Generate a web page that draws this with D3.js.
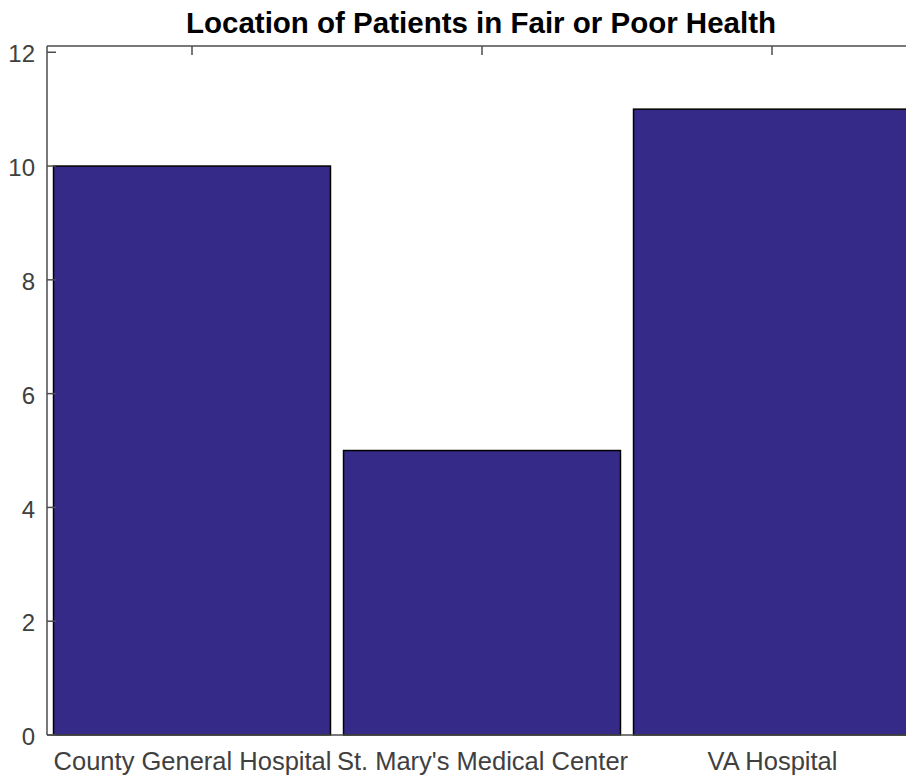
<!DOCTYPE html>
<html><head><meta charset="utf-8">
<script src="https://cdn.jsdelivr.net/npm/d3@7/dist/d3.min.js"></script>
<style>body{margin:0;background:#fff;overflow:hidden}</style>
</head><body>
<svg id="c" width="906" height="781"></svg>
<script>
const categories = ["County General Hospital", "St. Mary's Medical Center", "VA Hospital"];
const values = [10, 5, 11];
const yTicks = [0, 2, 4, 6, 8, 10, 12];
const title = "Location of Patients in Fair or Poor Health";

const svg = d3.select("#c");
const L = 47, T = 46, B = 735, R = 917;
const x = d3.scaleLinear().domain([0.5, 3.5]).range([L, R]);
const y = d3.scaleLinear().domain([0, 12.11]).range([B, T]);
const bw = 0.955;
const axisCol = "#4d4d4d", textCol = "#404040";
const font = "'Liberation Sans', Arial, Helvetica, sans-serif";

svg.append("rect").attr("width", 906).attr("height", 781).attr("fill", "#fff");

svg.selectAll("rect.bar").data(values).enter().append("rect")
  .attr("class", "bar")
  .attr("x", (d, i) => x(i + 1 - bw / 2))
  .attr("width", (d, i) => x(i + 1 + bw / 2) - x(i + 1 - bw / 2))
  .attr("y", d => y(d))
  .attr("height", d => y(0) - y(d))
  .attr("fill", "#352a87")
  .attr("stroke", "#000")
  .attr("stroke-width", 1.5);

const g = svg.append("g");
g.append("line").attr("x1", L).attr("x2", R).attr("y1", T).attr("y2", T).attr("stroke", axisCol).attr("stroke-width", 1.5);
g.append("line").attr("x1", L).attr("x2", R).attr("y1", B).attr("y2", B).attr("stroke", axisCol).attr("stroke-width", 1.5);
g.append("line").attr("x1", L).attr("x2", L).attr("y1", T).attr("y2", B).attr("stroke", axisCol).attr("stroke-width", 1.5);

const yAxis = d3.axisLeft(y).tickValues(yTicks).tickSize(0).tickPadding(12).tickFormat(d3.format("d"));
const ya = svg.append("g").attr("transform", `translate(${L},2)`).call(yAxis);
ya.select(".domain").remove();
ya.selectAll("text").attr("fill", textCol).style("font-family", font).style("font-size", "24px");
yTicks.forEach(t => {
  g.append("line").attr("x1", L).attr("x2", L + 9).attr("y1", y(t)).attr("y2", y(t)).attr("stroke", axisCol).attr("stroke-width", 1.5);
});
categories.forEach((c, i) => {
  g.append("line").attr("x1", x(i + 1)).attr("x2", x(i + 1)).attr("y1", T).attr("y2", T + 9).attr("stroke", axisCol).attr("stroke-width", 1.5);
});

const xAxis = d3.axisBottom(x).tickValues([1, 2, 3]).tickSize(0).tickPadding(17).tickFormat((d) => categories[d - 1]);
const xa = svg.append("g").attr("transform", `translate(0,${B})`).call(xAxis);
xa.select(".domain").remove();
xa.selectAll("text").attr("fill", textCol).style("font-family", font).style("font-size", "25.5px");

svg.append("text").attr("x", x(2) - 1).attr("y", 33).attr("text-anchor", "middle")
  .style("font-family", font).style("font-size", "29.5px").style("font-weight", "bold").attr("fill", "#000")
  .text(title);
</script>
</body></html>
